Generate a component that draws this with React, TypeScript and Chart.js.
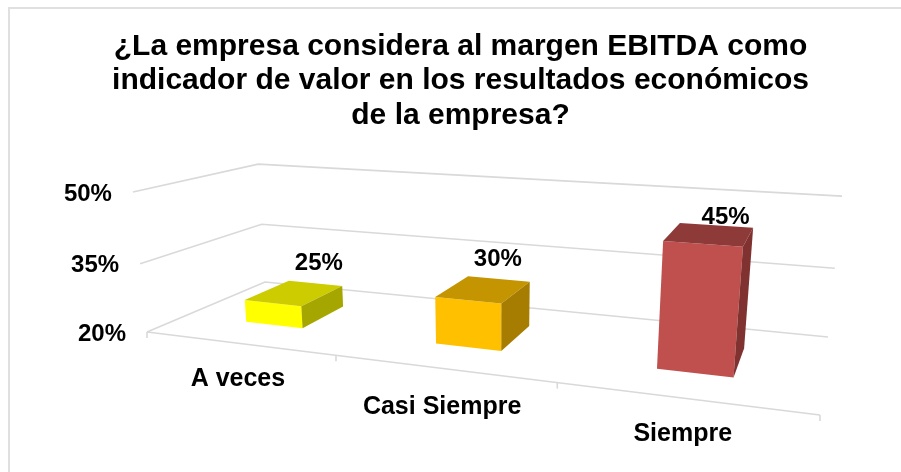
import React, { useEffect, useRef } from "react";
import { Chart, registerables } from "chart.js";

Chart.register(...registerables);

const categories = ["A veces", "Casi Siempre", "Siempre"];
const percentages = [25, 30, 45];
const titleLines = [
  "¿La empresa considera al margen EBITDA como",
  "indicador de valor en los resultados económicos",
  "de la empresa?",
];
const frontColors = ["#FFFF00", "#FFC000", "#C0504D"];
const topColors = ["#CCCC00", "#C49500", "#8E3A38"];
const sideColors = ["#A6A600", "#A67D00", "#7F3230"];
const labelNudges = [
  [24, -29],
  [14, -30],
  [16, -17],
];
const categoryDrops = [36, 39, 36];

const FONT = '"Liberation Sans", Arial, sans-serif';
const GRID = "#d9d9d9";
const BAR_DEPTH: [number, number] = [0.3, 0.7];

// Oblique view of the plot box: u along categories, v up the value axis, w into the page.
function project(u: number, v: number, w: number): [number, number] {
  const den = 1 - 0.219 * u + 0.1985 * w - 0.047 * v;
  const x = 147 + 493.4 * u + 170.6 * w - 20.3 * v - 5.5 * u * v;
  const y = 332 - 7.9 * u + 6 * w - 149 * v + 1.8 * u * v;
  return [x / den, y / den];
}

function poly(ctx: CanvasRenderingContext2D, pts: [number, number][], fill: string) {
  ctx.beginPath();
  pts.forEach((p, i) => (i ? ctx.lineTo(p[0], p[1]) : ctx.moveTo(p[0], p[1])));
  ctx.closePath();
  ctx.fillStyle = fill;
  ctx.fill();
}

const obliquePlugin = {
  id: "oblique",
  beforeDatasetsDraw(chart: any) {
    const ctx: CanvasRenderingContext2D = chart.ctx;
    const xs = chart.scales.x;
    const ys = chart.scales.y;
    const vOf = (val: number) =>
      (ys.bottom - ys.getPixelForValue(val)) / (ys.bottom - ys.top);

    ctx.save();
    ctx.strokeStyle = GRID;
    ctx.lineWidth = 1.6;
    ctx.fillStyle = "#000";
    ctx.font = `bold 24px ${FONT}`;
    ctx.textBaseline = "middle";

    // value axis: wall lines and labels
    ys.ticks.forEach((t: any) => {
      const v = vOf(t.value);
      const a = project(0, v, 0);
      const b = project(0, v, 1);
      const c = project(1, v, 1);
      ctx.beginPath();
      ctx.moveTo(a[0], a[1]);
      ctx.lineTo(b[0], b[1]);
      ctx.lineTo(c[0], c[1]);
      ctx.stroke();
      ctx.textAlign = "right";
      ctx.fillText(`${t.value}%`, a[0] - 21, a[1] + 2);
    });

    // floor front edge, tick marks and category labels
    const fl = project(0, 0, 0);
    const fr = project(1, 0, 0);
    ctx.beginPath();
    ctx.moveTo(fl[0], fl[1]);
    ctx.lineTo(fr[0], fr[1]);
    ctx.stroke();
    const n = categories.length;
    for (let i = 0; i <= n; i++) {
      const p = project(i / n, 0, 0);
      ctx.beginPath();
      ctx.moveTo(p[0], p[1]);
      ctx.lineTo(p[0], p[1] + 6);
      ctx.stroke();
    }
    ctx.textAlign = "center";
    ctx.font = `bold 25px ${FONT}`;
    chart.data.labels.forEach((label: string, i: number) => {
      const u = (xs.getPixelForValue(i) - xs.left) / xs.width;
      const p = project(u, 0, 0);
      ctx.fillText(label, p[0], p[1] + categoryDrops[i]);
    });
    ctx.font = `bold 24px ${FONT}`;

    // bars
    const meta = chart.getDatasetMeta(0);
    const data = chart.data.datasets[0].data;
    meta.data.forEach((el: any, i: number) => {
      const { x, width } = el.getProps(["x", "width"], true);
      const u0 = (x - width / 2 - xs.left) / xs.width;
      const u1 = (x + width / 2 - xs.left) / xs.width;
      const v = vOf(data[i]);
      const [w0, w1] = BAR_DEPTH;
      poly(ctx, [project(u0, 0, w0), project(u1, 0, w0), project(u1, v, w0), project(u0, v, w0)], frontColors[i]);
      poly(ctx, [project(u0, v, w0), project(u1, v, w0), project(u1, v, w1), project(u0, v, w1)], topColors[i]);
      poly(ctx, [project(u1, 0, w0), project(u1, 0, w1), project(u1, v, w1), project(u1, v, w0)], sideColors[i]);
    });

    // value labels sit on top of the bars
    meta.data.forEach((el: any, i: number) => {
      const { x } = el.getProps(["x"], true);
      const u = (x - xs.left) / xs.width;
      const p = project(u, vOf(data[i]), (BAR_DEPTH[0] + BAR_DEPTH[1]) / 2);
      ctx.fillStyle = "#000";
      ctx.fillText(`${data[i]}%`, p[0] + labelNudges[i][0], p[1] + labelNudges[i][1]);
    });
    ctx.restore();
  },
  beforeDatasetDraw() {
    return false;
  },
};

export default function App() {
  const ref = useRef<HTMLCanvasElement>(null);
  useEffect(() => {
    const chart = new Chart(ref.current!, {
      type: "bar",
      data: {
        labels: categories,
        datasets: [
          {
            data: percentages,
            backgroundColor: frontColors,
            categoryPercentage: 0.312,
            barPercentage: 1,
          },
        ],
      },
      options: {
        animation: false,
        responsive: false,
        layout: { padding: { left: 20, right: 0, top: 0, bottom: 60 } },
        scales: {
          x: { display: false },
          y: { display: false, min: 20, max: 50, ticks: { stepSize: 15 } },
        },
        plugins: {
          legend: { display: false },
          tooltip: { enabled: false },
          title: {
            display: true,
            text: titleLines,
            color: "#000",
            font: { family: FONT, size: 30, weight: "bold", lineHeight: 1.15 },
            padding: { top: 29, bottom: 20 },
          },
        },
      },
      plugins: [obliquePlugin],
    } as any);
    return () => chart.destroy();
  }, []);
  return (
    <div style={{ position: "fixed", left: 0, top: 0, width: 901, height: 472, background: "#fff" }}>
      <canvas ref={ref} width={901} height={472} style={{ display: "block" }} />
      <div
        style={{
          position: "absolute",
          left: 8,
          top: 7,
          right: 0,
          bottom: 0,
          borderLeft: "2px solid #e0e0e0",
          borderTop: "2px solid #e0e0e0",
          pointerEvents: "none",
        }}
      />
    </div>
  );
}
